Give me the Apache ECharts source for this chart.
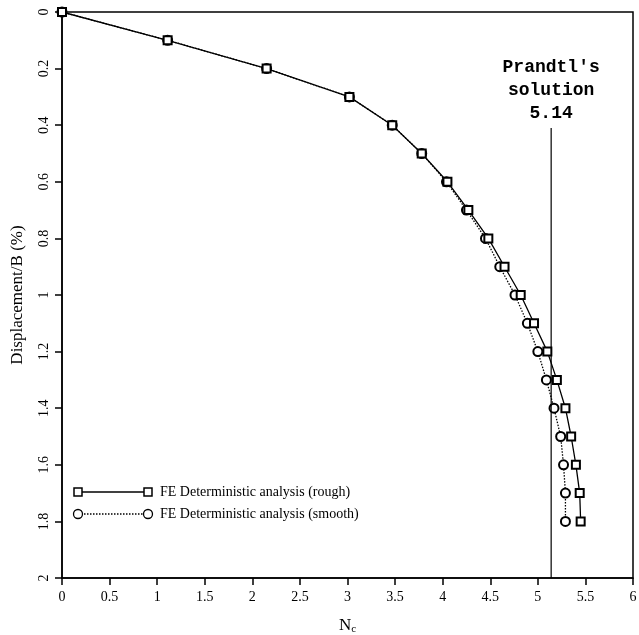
<!DOCTYPE html>
<html><head><meta charset="utf-8">
<script src="https://cdn.jsdelivr.net/npm/echarts@6/dist/echarts.min.js"></script>
<style>html,body{margin:0;padding:0;background:#fff}#c{width:639px;height:635px}</style>
</head><body><div id="c"></div>
<script>
var dispLevels = [0,0.1,0.2,0.3,0.4,0.5,0.6,0.7,0.8,0.9,1.0,1.1,1.2,1.3,1.4,1.5,1.6,1.7,1.8];
var roughNc  = [0,1.11,2.15,3.02,3.47,3.78,4.05,4.27,4.48,4.65,4.82,4.96,5.10,5.20,5.29,5.35,5.40,5.44,5.45];
var smoothNc = [0,1.11,2.15,3.02,3.47,3.78,4.04,4.25,4.45,4.60,4.76,4.89,5.00,5.09,5.17,5.24,5.27,5.29,5.29];
var prandtlNc = 5.14;
var prandtlLine = [0.41, 2];
var xTicks = [0,0.5,1,1.5,2,2.5,3,3.5,4,4.5,5,5.5,6];
var yTicks = [0,0.2,0.4,0.6,0.8,1,1.2,1.4,1.6,1.8,2];
var legendNames = ['FE Deterministic analysis (rough)','FE Deterministic analysis (smooth)'];

var serif = '"Liberation Serif","DejaVu Serif",serif';
var chart = echarts.init(document.getElementById('c'));
function pairs(xs){return xs.map(function(v,i){return [v, dispLevels[i]];});}
chart.setOption({
  animation:false,
  grid:{left:62,right:6,top:12,bottom:57,show:true,borderColor:'#000',borderWidth:1.5,containLabel:false,outerBoundsMode:'none'},
  xAxis:{type:'value',min:0,max:6,interval:0.5,
    axisLine:{onZero:false,lineStyle:{color:'#000',width:1.5}},
    axisTick:{length:7,lineStyle:{color:'#000',width:1.5}},
    splitLine:{show:false},
    axisLabel:{color:'#000',fontFamily:serif,fontSize:14,margin:12},
    name:'N{sub|c}',nameLocation:'middle',nameGap:38,
    nameTextStyle:{color:'#000',fontFamily:serif,fontSize:17,rich:{sub:{fontSize:11,verticalAlign:'bottom',padding:[8,0,0,0],fontFamily:serif}}}},
  yAxis:{type:'value',inverse:true,min:0,max:2,interval:0.2,
    axisLine:{onZero:false,lineStyle:{color:'#000',width:1.5}},
    axisTick:{length:7,lineStyle:{color:'#000',width:1.5}},
    splitLine:{show:false},
    axisLabel:{color:'#000',fontFamily:serif,fontSize:14,rotate:90,margin:11,
      formatter:function(v){return String(Math.round(v*10)/10);}},
    name:'Displacement/B (%)',nameLocation:'middle',nameGap:36,
    nameTextStyle:{color:'#000',fontFamily:serif,fontSize:17}},
  series:[
    {name:legendNames[1],type:'line',data:pairs(smoothNc),symbol:'emptyCircle',symbolSize:9,
      itemStyle:{color:'#000',borderWidth:1.3},lineStyle:{color:'#000',width:1.3,type:[1.5,1.5]},z:2},
    {name:legendNames[0],type:'line',data:pairs(roughNc),symbol:'emptyRect',symbolSize:8,
      itemStyle:{color:'#000',borderWidth:1.5},lineStyle:{color:'#000',width:1.3},z:3},
    {type:'line',data:[[prandtlNc,prandtlLine[0]],[prandtlNc,prandtlLine[1]]],symbol:'none',
      lineStyle:{color:'#000',width:1.2},
      label:{show:false},
      markPoint:{symbol:'circle',symbolSize:0,data:[{coord:[prandtlNc,prandtlLine[0]],
        label:{show:true,position:'top',distance:3,formatter:"Prandtl's\nsolution\n" + prandtlNc,
          color:'#000',fontFamily:'"Liberation Mono","DejaVu Sans Mono",monospace',fontWeight:'bold',fontSize:18,lineHeight:23,align:'center'}}]}}
  ],
  graphic:[
    {type:'line',shape:{x1:78,y1:492,x2:148,y2:492},style:{stroke:'#000',lineWidth:1.3}},
    {type:'rect',shape:{x:74,y:488,width:8,height:8},style:{fill:'#fff',stroke:'#000',lineWidth:1.5}},
    {type:'rect',shape:{x:144,y:488,width:8,height:8},style:{fill:'#fff',stroke:'#000',lineWidth:1.5}},
    {type:'text',x:160,y:492,style:{text:legendNames[0],fill:'#000',font:'14px '+serif,verticalAlign:'middle'}},
    {type:'line',shape:{x1:78,y1:514,x2:148,y2:514},style:{stroke:'#000',lineWidth:1.3,lineDash:[1.5,1.5]}},
    {type:'circle',shape:{cx:78,cy:514,r:4.5},style:{fill:'#fff',stroke:'#000',lineWidth:1.3}},
    {type:'circle',shape:{cx:148,cy:514,r:4.5},style:{fill:'#fff',stroke:'#000',lineWidth:1.3}},
    {type:'text',x:160,y:514,style:{text:legendNames[1],fill:'#000',font:'14px '+serif,verticalAlign:'middle'}}
  ]
});
</script></body></html>
